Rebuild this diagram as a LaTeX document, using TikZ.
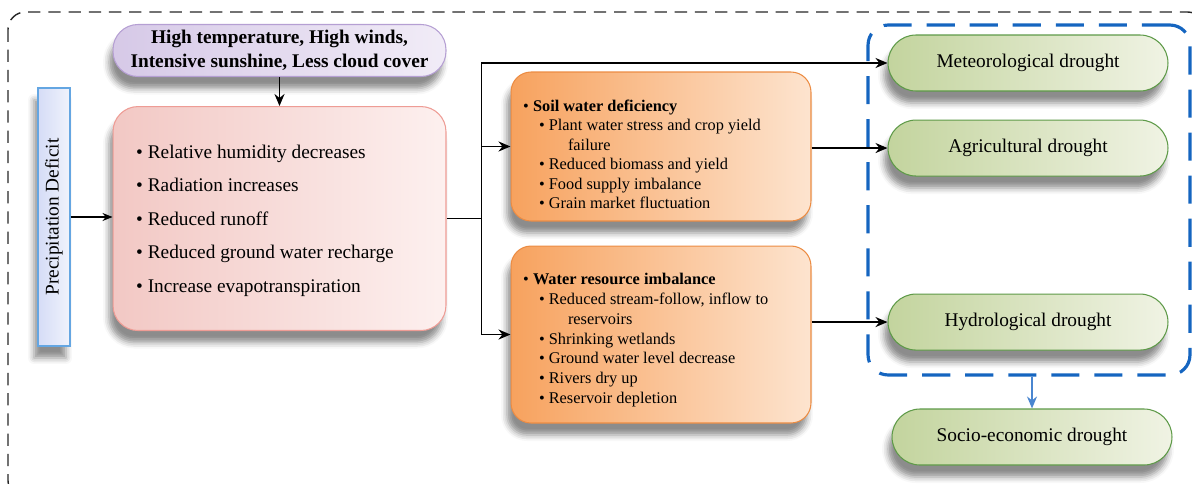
\documentclass[tikz,border=0pt]{standalone}
\usepackage{fontspec}
\setmainfont{Liberation Serif}
\usetikzlibrary{arrows.meta, positioning, shadows.blur}

\definecolor{precA}{HTML}{D5DCF6}
\definecolor{precB}{HTML}{F0F3FC}
\definecolor{precline}{HTML}{64A6E2}
\definecolor{heatA}{HTML}{D6C9E7}
\definecolor{heatB}{HTML}{F1ECF7}
\definecolor{heatline}{HTML}{B59FD3}
\definecolor{effA}{HTML}{F2C8C4}
\definecolor{effB}{HTML}{FDF0EF}
\definecolor{effline}{HTML}{EE9C95}
\definecolor{soilA}{HTML}{F7A25E}
\definecolor{soilB}{HTML}{FDE4CF}
\definecolor{soilline}{HTML}{EC8C43}
\definecolor{pillA}{HTML}{C3D49E}
\definecolor{pillB}{HTML}{F0F3E4}
\definecolor{pillline}{HTML}{5E9A48}
\definecolor{setblue}{HTML}{1565C0}
\definecolor{downblue}{HTML}{4A86D0}

\begin{document}
\begin{tikzpicture}[x=0.02cm, y=-0.02cm, thick,
	boxshadow/.style = {blur shadow={shadow xshift=-0.8mm, shadow yshift=-2.4mm, shadow blur radius=1.2mm, shadow opacity=45}},
	precbox/.style = {draw=precline, line width=0.8pt, left color=precA, right color=precB, minimum width=0.64cm, minimum height=5.16cm, boxshadow},
	heatbox/.style = {draw=heatline, line width=0.6pt, left color=heatA, right color=heatB, rounded corners=0.5cm, minimum width=6.66cm, minimum height=1.02cm, align=center, font=\bfseries\fontsize{11}{13.6}\selectfont, boxshadow},
	effbox/.style = {draw=effline, line width=0.6pt, left color=effA, right color=effB, rounded corners=0.5cm, minimum width=6.66cm, minimum height=4.48cm, boxshadow},
	soilbox/.style = {draw=soilline, line width=0.6pt, left color=soilA, right color=soilB, rounded corners=0.4cm, minimum width=6cm, boxshadow},
	pill/.style = {draw=pillline, line width=0.6pt, left color=pillA, right color=pillB, rounded corners=0.56cm, minimum width=5.6cm, minimum height=1.12cm, font=\fontsize{11}{13.6}\selectfont, boxshadow},
	listtext/.style = {anchor=north west, inner sep=0pt, align=left},
	link/.style = {-{Stealth[length=2.4mm, width=2mm]}, line width=1.1pt},
	droughtset/.style = {draw=setblue, line width=1.8pt, dash pattern=on 16pt off 8.5pt, rounded corners=0.4cm, minimum width=6.44cm, minimum height=7cm}]

	\useasboundingbox (0,0) rectangle (1192,483);

	% outer frame
	\draw[black!85, line width=0.8pt, dash pattern=on 7pt off 4.5pt, rounded corners=0.35cm] (8,12) rectangle (1205,498);

	% causes
	\node[precbox] (precip) at (54,217) {};
	\node[rotate=90, font=\fontsize{11}{13.6}\selectfont] (preciptext) at (precip) {Precipitation Deficit};
	\node[heatbox] (heat) at (279.5,50.5) {High temperature, High winds,\\Intensive sunshine, Less cloud cover};
	\node[effbox] (effects) [below=0.58cm of heat] {};
	\node[listtext, font=\fontsize{11}{19.05}\selectfont] (effectslist) at ([xshift=0.46cm, yshift=-0.76cm]effects.north west) {%
		\textbullet\ Relative humidity decreases\\
		\textbullet\ Radiation increases\\
		\textbullet\ Reduced runoff\\
		\textbullet\ Reduced ground water recharge\\
		\textbullet\ Increase evapotranspiration};

	% impacts
	\node[soilbox, minimum height=2.98cm] (soil) at (661,146.5) {};
	\node[listtext, font=\fontsize{9.3}{11.1}\selectfont] (soillist) at ([xshift=0.24cm, yshift=-0.55cm]soil.north west) {%
		\textbullet\ \textbf{Soil water deficiency}\\
		\hspace*{9pt}\textbullet\ Plant water stress and crop yield\\
		\hspace*{25.5pt}failure\\
		\hspace*{9pt}\textbullet\ Reduced biomass and yield\\
		\hspace*{9pt}\textbullet\ Food supply imbalance\\
		\hspace*{9pt}\textbullet\ Grain market fluctuation};
	\node[soilbox, minimum height=3.54cm] (water) [below=0.48cm of soil] {};
	\node[listtext, font=\fontsize{9.3}{11.3}\selectfont] (waterlist) at ([xshift=0.24cm, yshift=-0.54cm]water.north west) {%
		\textbullet\ \textbf{Water resource imbalance}\\
		\hspace*{9pt}\textbullet\ Reduced stream-follow, inflow to\\
		\hspace*{25.5pt}reservoirs\\
		\hspace*{9pt}\textbullet\ Shrinking wetlands\\
		\hspace*{9pt}\textbullet\ Ground water level decrease\\
		\hspace*{9pt}\textbullet\ Rivers dry up\\
		\hspace*{9pt}\textbullet\ Reservoir depletion};

	% drought types
	\node[pill] (meteo) at (1028,63) {Meteorological drought};
	\node[pill] (agri) [below=0.56cm of meteo] {Agricultural drought};
	\node[pill] (hydro) [below=2.34cm of agri] {Hydrological drought};
	\node[droughtset] (set) at (1029,200) {};
	\node[pill] (socio) at (1032,437) {Socio-economic drought};

	% connectors
	\path (effects.east) -- ++(35,0) coordinate (split);
	\draw[-{Stealth[length=2mm, width=1.6mm]}, line width=0.6pt] (precip) -- (precip -| effects.west);
	\draw[link] (heat) -- (effects);
	\draw[line width=1.1pt] (effects.east) -- (split);
	\draw[link] (split) |- (meteo.west);
	\draw[link] (split) |- (soil.west);
	\draw[link] (split) |- (water.west);
	\draw[link] (soil.east |- agri.west) -- (agri.west);
	\draw[link] (water.east |- hydro.west) -- (hydro.west);
	\draw[downblue, -{Stealth[length=2.4mm, width=2mm]}, line width=0.9pt] (set.south -| socio.north) -- (socio.north);

\end{tikzpicture}
\end{document}
